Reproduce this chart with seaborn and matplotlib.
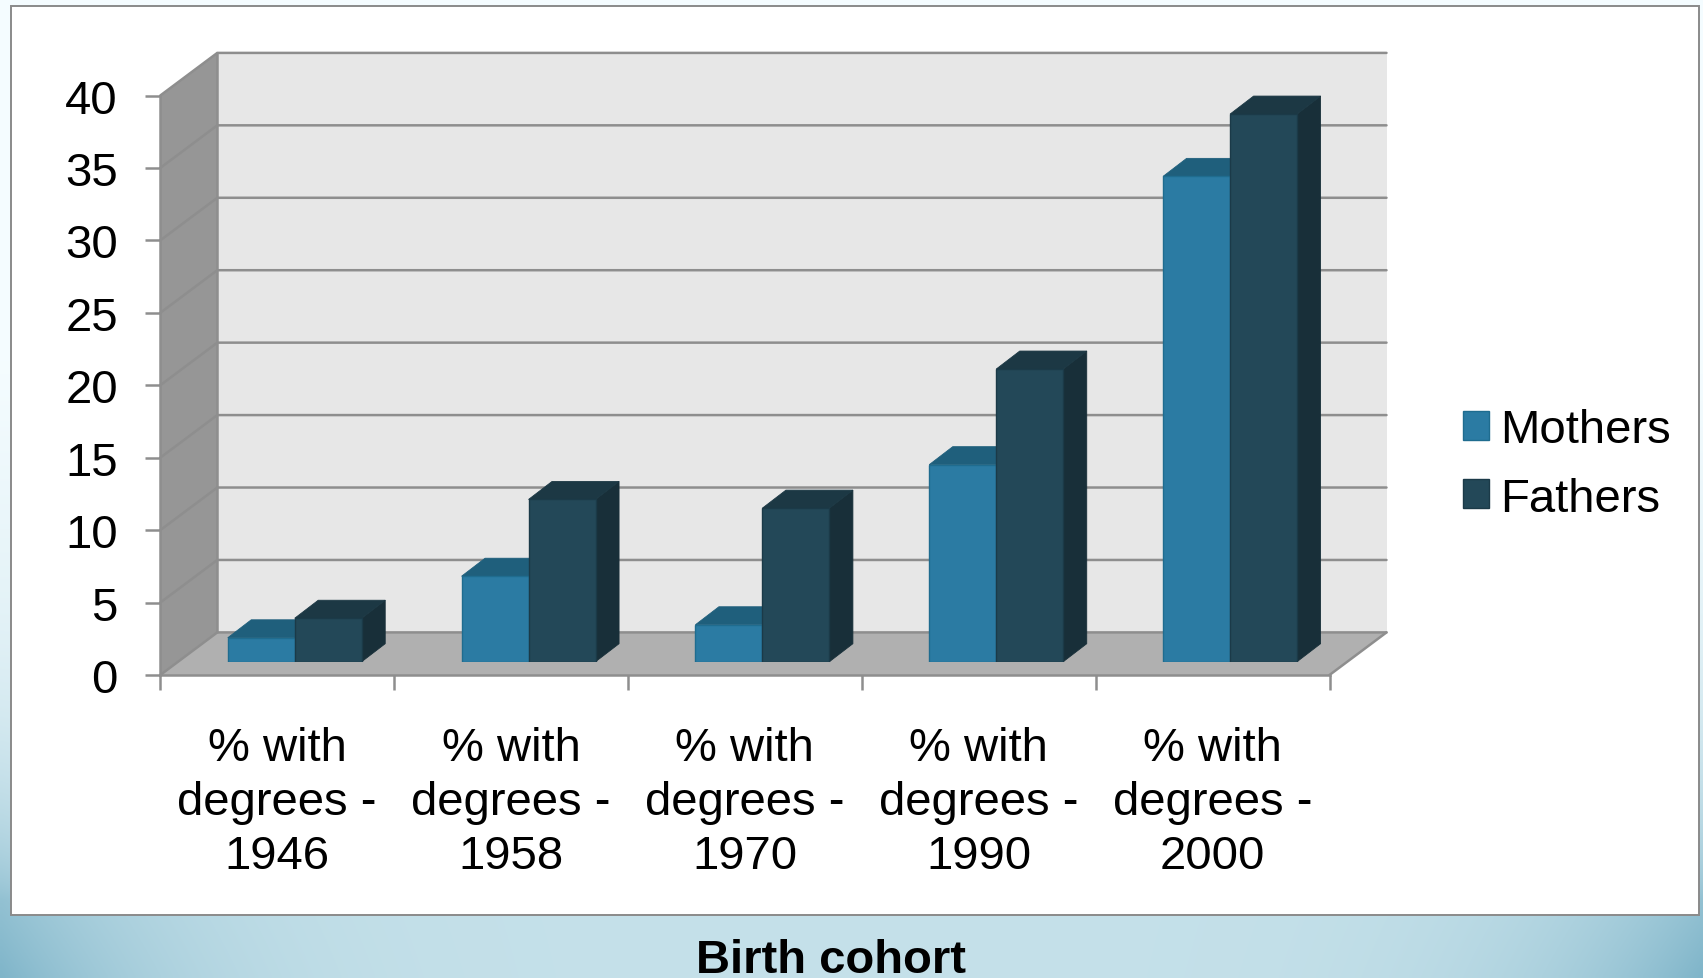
import numpy as np
import pandas as pd
import matplotlib
matplotlib.use("Agg")
import matplotlib.pyplot as plt
from matplotlib.patches import Polygon, Rectangle
import seaborn as sns

categories = ["% with\ndegrees -\n1946", "% with\ndegrees -\n1958", "% with\ndegrees -\n1970",
              "% with\ndegrees -\n1990", "% with\ndegrees -\n2000"]
mothers = [1.65, 5.9, 2.55, 13.6, 33.5]
fathers = [3.0, 11.2, 10.6, 20.2, 37.8]
y_ticks = [0, 5, 10, 15, 20, 25, 30, 35, 40]
x_title = "Birth cohort"

W, H = 1703, 979
sns.set_theme(style="white")
plt.rcParams["font.family"] = ["Liberation Sans", "DejaVu Sans"]
plt.rcParams["text.color"] = "black"

FS = 34
GRID = "#8e8e8e"
LW = 1.8
M_FRONT, M_TOP, M_EDGE = "#2b7ba3", "#1f5f7c", "#1f6c8f"
F_FRONT, F_TOP, F_SIDE, F_EDGE = "#234858", "#1c3844", "#182f39", "#1b3a48"

def rect(x0, y0, x1, y1):
    return [x0 / W, 1 - y1 / H, (x1 - x0) / W, (y1 - y0) / H]

fig = plt.figure(figsize=(W / 100, H / 100), dpi=100)

# slide background
bg = fig.add_axes([0, 0, 1, 1], zorder=0)
bg.axis("off")
u = np.linspace(-1, 1, 426)[None, :]
v = np.linspace(0, 1, 245)[:, None]
edge = np.abs(u) ** 5
c0 = np.array([0.77, 0.88, 0.915])
c1 = np.array([0.50, 0.71, 0.79])
band = c0[None, None, :] + (c1 - c0)[None, None, :] * (edge * np.clip((v - 0.6) / 0.4, 0, 1) ** 1.5)[:, :, None]
top_white = (np.clip((0.92 - v) / 0.55, 0, 1) ** 0.7)[:, :, None]
img = band * (1 - top_white) + top_white * np.array([0.96, 0.99, 1.0])
bg.imshow(img, aspect="auto", extent=[0, 1, 0, 1], interpolation="bilinear")
bg.set_xlim(0, 1)
bg.set_ylim(0, 1)
bg.add_patch(Rectangle((11 / W, 1 - 916 / H), (1699 - 11) / W, (916 - 7) / H, facecolor="white",
                       edgecolor="#8a8a8a", lw=1.4))

# main frame
X0, X1, Y0, Y1 = 160.3, 1329.5, 676.0, 96.5
ax = fig.add_axes(rect(X0, Y1, X1, Y0), zorder=1)
ax.patch.set_alpha(0)
ax.set_xlim(-0.5, 4.5)
ax.set_ylim(0, 40)
cat_w = (X1 - X0) / 5
unit = (Y0 - Y1) / 40
dx, dy = 57 / cat_w, 42.6 / unit

ax.add_patch(Rectangle((-0.5 + dx, dy), 5, 40, facecolor="#e7e7e7", edgecolor="none", clip_on=False, zorder=1))
ax.add_patch(Polygon([(-0.5, 0), (-0.5, 40), (-0.5 + dx, 40 + dy), (-0.5 + dx, dy)], facecolor="#969696",
                     edgecolor="none", clip_on=False, zorder=1))
ax.add_patch(Polygon([(-0.5, 0), (4.5, 0), (4.5 + dx, dy), (-0.5 + dx, dy)], facecolor="#b0b0b0",
                     edgecolor="none", clip_on=False, zorder=1))
for t in y_ticks:
    ax.plot([-0.5, -0.5 + dx, 4.5 + dx], [t, t + dy, t + dy], color=GRID, lw=LW, clip_on=False, zorder=2,
            solid_joinstyle="miter")
ax.plot([4.5, 4.5 + dx], [0, dy], color=GRID, lw=LW, clip_on=False, zorder=2)
ax.plot([-0.5 + dx] * 2, [dy, 40 + dy], color=GRID, lw=LW, clip_on=False, zorder=2)

for s in ("top", "right"):
    ax.spines[s].set_visible(False)
for s in ("left", "bottom"):
    ax.spines[s].set_color(GRID)
    ax.spines[s].set_linewidth(LW)
    ax.spines[s].set_zorder(3)
ax.set_yticks(y_ticks)
ax.set_xticks(np.arange(-0.5, 5, 1))
ax.set_xticklabels([])
ax.set_xticks(np.arange(5), labels=categories, minor=True)
ax.tick_params(axis="y", length=11, width=LW, color=GRID, labelsize=FS, pad=19.5, left=True)
ax.tick_params(axis="x", which="major", length=11, width=LW, color=GRID, bottom=True)
ax.tick_params(axis="x", which="minor", length=0, labelsize=FS, pad=36.5)
for lab in ax.get_xticklabels(minor=True):
    lab.set_linespacing(1.30)
    lab.set_color("black")
for lab in ax.get_yticklabels():
    lab.set_color("black")

# bars: same scales, shifted into the depth of the floor
shift_x, shift_y = 17.5, 13.3
bax = fig.add_axes(rect(X0 + shift_x, Y1 - shift_y, X1 + shift_x, Y0 - shift_y), zorder=2)
bax.patch.set_alpha(0)
df = pd.DataFrame({
    "cohort": categories * 2,
    "parent": ["Mothers"] * len(mothers) + ["Fathers"] * len(fathers),
    "value": mothers + fathers,
})
sns.barplot(data=df, x="cohort", y="value", hue="parent", hue_order=["Mothers", "Fathers"],
            palette=[M_FRONT, F_FRONT], width=0.573, gap=0, saturation=1, ax=bax, legend=True)
bax.set_xlim(-0.5, 4.5)
bax.set_ylim(0, 40)

ddx, ddy = 23.5 / cat_w, 18 / unit
styles = [(M_TOP, M_TOP, M_EDGE, 3), (F_TOP, F_SIDE, F_EDGE, 6)]
for cont, (top_c, side_c, edge_c, z) in zip(bax.containers, styles):
    for p in cont:
        x0, x1 = p.get_x(), p.get_x() + p.get_width()
        h = p.get_height()
        p.set_edgecolor(edge_c)
        p.set_linewidth(1.0)
        p.set_zorder(z + 1)
        bax.add_patch(Polygon([(x1, 0), (x1 + ddx, ddy), (x1 + ddx, h + ddy), (x1, h)], facecolor=side_c,
                              edgecolor=side_c, lw=0.6, zorder=z, clip_on=False))
        bax.add_patch(Polygon([(x0, h), (x1, h), (x1 + ddx, h + ddy), (x0 + ddx, h + ddy)], facecolor=top_c,
                              edgecolor=top_c, lw=0.6, zorder=z, clip_on=False))

handles, labels = bax.get_legend_handles_labels()
bax.get_legend().remove()
leg = fig.legend(handles, labels, loc="upper left", bbox_to_anchor=(1420 / W, 1 - 366.5 / H), frameon=False,
                 fontsize=FS, handlelength=0.56, handleheight=0.56, handletextpad=0.24, labelspacing=0.52,
                 labelcolor="black")
for h, c in zip(leg.legend_handles, [M_EDGE, F_EDGE]):
    h.set_edgecolor(c)
    h.set_linewidth(1.0)
bax.axis("off")

fig.text(831 / W, 1 - 973 / H, x_title, ha="center", va="baseline", fontsize=FS, fontweight="bold", color="black")

fig.savefig("out.png", dpi=100)
